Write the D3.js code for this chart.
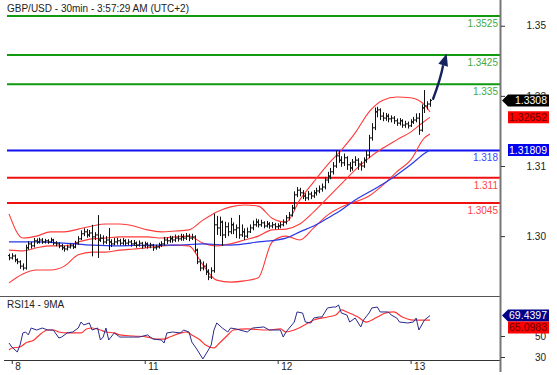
<!DOCTYPE html>
<html>
<head>
<meta charset="utf-8">
<script src="https://cdn.jsdelivr.net/npm/d3@7"></script>
<style>
body{margin:0;background:#fff;}
svg{display:block;font-family:"Liberation Sans",Arial,sans-serif;}
</style>
</head>
<body>
<svg id="chart" width="557" height="375"></svg>
<script>
//Data - GBP/USD 30min bars
const title = 'GBP/USD - 30min - 3:57:29 AM (UTC+2)';
const firstOpen = 1.2910;
const closes = [
  1.2904,1.2909,1.2899,1.2894,1.2883,1.2878,1.2930,1.2940,1.2935,1.2948,
  1.2945,1.2950,1.2945,1.2948,1.2945,1.2950,1.2942,1.2940,1.2935,1.2930,
  1.2927,1.2932,1.2935,1.2932,1.2942,1.2953,1.2966,1.2971,1.2963,1.2968,
  1.2958,1.2963,1.2950,1.2955,1.2945,1.2950,1.2945,1.2940,1.2945,1.2948,
  1.2942,1.2948,1.2942,1.2945,1.2940,1.2942,1.2937,1.2942,1.2935,1.2940,
  1.2935,1.2937,1.2930,1.2932,1.2937,1.2940,1.2950,1.2948,1.2953,1.2950,
  1.2955,1.2953,1.2958,1.2955,1.2960,1.2955,1.2958,1.2924,1.2894,1.2878,
  1.2883,1.2868,1.2855,1.2871,1.2989,1.2981,1.2996,1.2963,1.2984,1.2971,
  1.2989,1.2976,1.2981,1.2963,1.2971,1.2960,1.2971,1.2981,1.2989,1.2996,
  1.2989,1.2994,1.2986,1.2991,1.2986,1.2989,1.2984,1.2986,1.2989,1.2996,
  1.3007,1.3014,1.3032,1.3066,1.3078,1.3071,1.3063,1.3058,1.3068,1.3063,
  1.3071,1.3076,1.3081,1.3086,1.3104,1.3114,1.3125,1.3140,1.3166,1.3155,
  1.3148,1.3161,1.3143,1.3135,1.3150,1.3155,1.3145,1.3140,1.3155,1.3168,
  1.3212,1.3238,1.3279,1.3284,1.3268,1.3263,1.3268,1.3261,1.3263,1.3256,
  1.3250,1.3256,1.3245,1.3248,1.3243,1.3253,1.3258,1.3263,1.3232,1.3289,
  1.3294,1.3299,1.3308
];
const highs = [
  1.2915,1.2916,1.2913,1.2903,1.2898,1.2890,1.2938,1.2947,1.2945,1.2955,
  1.2954,1.2956,1.2955,1.2953,1.2952,1.2956,1.2953,1.2947,1.2944,1.2940,
  1.2935,1.2938,1.2941,1.2940,1.2948,1.2960,1.2975,1.2980,1.2978,1.2976,
  1.2989,1.2970,1.3014,1.2965,1.2962,1.2960,1.2981,1.2952,1.2955,1.2956,
  1.2953,1.2955,1.2952,1.2952,1.2950,1.2950,1.2946,1.2949,1.2945,1.2946,
  1.2944,1.2943,1.2940,1.2938,1.2943,1.2947,1.2958,1.2957,1.2961,1.2960,
  1.2964,1.2962,1.2966,1.2965,1.2968,1.2966,1.2966,1.2962,1.2928,1.2900,
  1.2895,1.2890,1.2875,1.2880,1.3018,1.3012,1.3010,1.3000,1.2997,1.2995,
  1.3007,1.2995,1.2990,1.3014,1.2990,1.2980,1.2982,1.2990,1.3000,1.3005,
  1.3003,1.3002,1.2998,1.2999,1.2996,1.2996,1.2994,1.2993,1.2996,1.3003,
  1.3014,1.3022,1.3040,1.3075,1.3086,1.3084,1.3078,1.3070,1.3076,1.3074,
  1.3078,1.3084,1.3090,1.3095,1.3112,1.3125,1.3135,1.3150,1.3180,1.3180,
  1.3165,1.3172,1.3165,1.3150,1.3158,1.3165,1.3160,1.3152,1.3162,1.3180,
  1.3220,1.3250,1.3290,1.3292,1.3288,1.3278,1.3276,1.3274,1.3270,1.3268,
  1.3262,1.3263,1.3260,1.3256,1.3254,1.3260,1.3266,1.3275,1.3276,1.3298,
  1.3335,1.3306,1.3312
];
const lows = [
  1.2898,1.2900,1.2893,1.2888,1.2876,1.2872,1.2874,1.2925,1.2928,1.2931,
  1.2940,1.2941,1.2940,1.2941,1.2940,1.2942,1.2937,1.2934,1.2929,1.2924,
  1.2920,1.2923,1.2928,1.2927,1.2929,1.2938,1.2950,1.2960,1.2956,1.2958,
  1.2908,1.2950,1.2904,1.2945,1.2938,1.2940,1.2924,1.2932,1.2936,1.2938,
  1.2936,1.2937,1.2935,1.2937,1.2933,1.2935,1.2930,1.2933,1.2928,1.2930,
  1.2928,1.2929,1.2922,1.2925,1.2928,1.2932,1.2936,1.2940,1.2943,1.2943,
  1.2945,1.2946,1.2948,1.2948,1.2950,1.2947,1.2950,1.2918,1.2888,1.2870,
  1.2872,1.2860,1.2847,1.2850,1.2866,1.2963,1.2960,1.2935,1.2955,1.2960,
  1.2965,1.2965,1.2955,1.2953,1.2958,1.2950,1.2955,1.2968,1.2975,1.2984,
  1.2982,1.2984,1.2980,1.2982,1.2979,1.2980,1.2977,1.2978,1.2980,1.2985,
  1.2990,1.3000,1.3010,1.3028,1.3060,1.3062,1.3055,1.3050,1.3052,1.3055,
  1.3058,1.3064,1.3070,1.3074,1.3080,1.3096,1.3106,1.3118,1.3135,1.3148,
  1.3138,1.3140,1.3130,1.3125,1.3128,1.3140,1.3130,1.3128,1.3135,1.3148,
  1.3160,1.3205,1.3232,1.3265,1.3258,1.3255,1.3256,1.3252,1.3252,1.3248,
  1.3243,1.3244,1.3238,1.3238,1.3236,1.3240,1.3248,1.3252,1.3220,1.3228,
  1.3276,1.3285,1.3292
];

//Bollinger bands (sampled every 5 bars)
const bandIdx = [0,5,10,15,20,25,30,35,40,45,50,55,60,65,70,75,80,85,90,95,100,105,110,115,120,125,130,135,140,145,150,152];
const bandUpper = [1.3017,1.2955,1.2960,1.2971,1.2971,1.2978,1.2986,1.2991,1.2991,1.2986,1.2976,1.2971,1.2973,1.2976,1.3001,1.3022,
  1.3035,1.3040,1.3037,1.3006,1.2996,1.3053,1.3099,1.3143,1.3181,1.3225,1.3279,1.3309,1.3317,1.3315,1.3297,1.3279];
const bandMid = [1.2924,1.2922,1.2930,1.2935,1.2935,1.2945,1.2953,1.2955,1.2958,1.2958,1.2958,1.2955,1.2958,1.2960,1.2942,1.2935,
  1.2940,1.2950,1.2960,1.2976,1.2978,1.2991,1.3022,1.3058,1.3094,1.3130,1.3161,1.3186,1.3207,1.3227,1.3255,1.3265];
const bandLower = [1.2840,1.2863,1.2873,1.2873,1.2883,1.2912,1.2919,1.2919,1.2924,1.2927,1.2930,1.2935,1.2937,1.2935,1.2886,1.2847,
  1.2842,1.2845,1.2853,1.2945,1.2960,1.2950,1.2981,1.3014,1.3035,1.3048,1.3063,1.3091,1.3125,1.3155,1.3212,1.3222];

//Long moving average (blue)
const maIdx = [0,10,20,30,40,50,60,70,80,90,100,105,110,115,120,125,130,135,140,145,150,152];
const maVals = [1.2945,1.2945,1.2942,1.2937,1.2935,1.2937,1.2937,1.2940,1.2937,1.2945,1.2955,1.2971,1.2986,1.3006,1.3027,1.3053,
  1.3073,1.3094,1.3117,1.3143,1.3172,1.3181];

//Levels
const levels = [1.3525, 1.3425, 1.335, 1.318, 1.311, 1.3045];
const levelLabels = ['1.3525','1.3425','1.335','1.318','1.311','1.3045'];
const levelColors = ['#109a10','#109a10','#109a10','#1010f0','#f01010','#f01010'];
const levelTextColors = ['#44aa44','#44aa44','#44aa44','#4444ff','#ff4444','#ff4444'];

//Axis ticks
const priceTicks = [1.35, 1.332, 1.314, 1.296];
const rsiTicks = [30, 50];
const dayTicks = [1, 49, 97, 145];
const dayLabels = ['8', '11', '12', '13'];

//RSI14 and its 9MA
const rsiIdx = [0,1,3,4,5,6,7,8,10,12,14,16,18,19,21,23,25,26,27,29,30,32,33,34,35,36,38,39,40,43,45,47,50,52,55,56,57,59,62,63,65,66,68,70,72,73,74,75,77,79,80,82,86,88,92,94,97,98,99,100,
  103,104,106,107,109,110,112,113,115,117,118,119,120,122,123,125,127,128,130,131,133,134,137,138,140,141,144,146,147,148,150,152];
const rsiVals = [43.3,39.5,34.8,41.4,52.9,53.8,51.0,57.6,55.7,57.6,55.7,55.7,48.1,49.0,52.9,53.8,57.6,63.3,60.5,62.4,55.7,57.6,46.2,49.0,57.6,46.2,52.9,51.0,49.0,49.0,49.0,49.0,51.0,47.1,46.2,43.3,52.9,53.8,52.9,55.7,53.8,44.3,36.7,28.1,36.7,41.4,55.7,62.4,57.6,53.8,57.6,56.7,53.8,57.6,58.6,55.7,55.7,55.7,49.0,53.8,
  63.3,72.9,71.9,63.3,62.4,67.1,68.1,68.1,76.7,77.6,77.6,79.5,71.9,70.0,63.3,67.1,58.6,65.2,71.9,76.7,77.6,72.9,72.9,70.0,67.1,63.3,62.4,63.3,67.1,55.7,65.2,69.4397];
const rsiMaIdx = [0,1,4,6,9,11,14,16,18,21,23,26,28,30,33,35,38,40,45,50,53,56,58,62,64,66,69,71,74,76,79,81,86,93,98,100,103,108,110,115,118,120,122,126,129,133,136,139,142,146,152];
const rsiMaVals = [36.7,38.6,39.5,43.3,46.2,51.0,55.7,55.7,53.8,52.9,52.9,52.9,56.7,57.6,55.7,53.8,52.9,51.0,50.0,49.0,47.1,47.1,49.0,52.9,53.8,51.0,46.2,41.4,38.6,43.3,51.0,55.7,56.7,55.7,56.7,53.8,55.7,62.4,65.2,68.1,70.0,74.8,72.9,68.1,63.3,68.1,71.9,72.9,68.1,65.2,65.0983];

//Current values shown on the right
const lastPrice = 1.3308, midValue = 1.32652, maValue = 1.31809;
const lastRsi = 69.4397, lastRsiMa = 65.0983;

//Forecast arrow: from [bar, price] to [bar, price]
const arrowFrom = [153, 1.3310], arrowTo = [158, 1.3428];

//Canvas
const svg = d3.select('#chart');
const axisLeftX = 500;
const x = d3.scaleLinear().domain([0, 152]).range([9, 430]);
const y = d3.scaleLinear().domain([1.3525, 1.3045]).range([16, 203]);
const yR = d3.scaleLinear().domain([50, 30]).range([336, 357]);

svg.append('clipPath').attr('id', 'clipMain').append('rect')
   .attr('x', 0).attr('y', 0).attr('width', axisLeftX).attr('height', 296);
svg.append('clipPath').attr('id', 'clipRsi').append('rect')
   .attr('x', 0).attr('y', 297).attr('width', axisLeftX).attr('height', 63);

const main = svg.append('g').attr('clip-path', 'url(#clipMain)');

//levels
main.selectAll('.level').data(levels).join('line').attr('class', 'level')
    .attr('x1', 7).attr('x2', axisLeftX)
    .attr('y1', d => y(d)).attr('y2', d => y(d))
    .attr('stroke', (d, i) => levelColors[i]).attr('stroke-width', 2);
main.selectAll('.level-label').data(levels).join('text').attr('class', 'level-label')
    .attr('x', axisLeftX - 2).attr('y', d => y(d) + 11)
    .attr('text-anchor', 'end').style('font-size', '10px')
    .attr('fill', (d, i) => levelTextColors[i]).text((d, i) => levelLabels[i]);

//bands + MA
const lineOf = (idx, vals, ys, curve) => d3.line()
    .x((d, i) => x(idx[i])).y(d => ys(d)).curve(curve)(vals);
[bandUpper, bandMid, bandLower].forEach(vals => {
    main.append('path').attr('d', lineOf(bandIdx, vals, y, d3.curveMonotoneX))
        .attr('fill', 'none').attr('stroke', '#ff3a3a').attr('stroke-width', 1.1);
});
main.append('path').attr('d', lineOf(maIdx, maVals, y, d3.curveMonotoneX))
    .attr('fill', 'none').attr('stroke', '#2838e8').attr('stroke-width', 1.2);

//OHLC bars
const opens = closes.map((c, i) => i ? closes[i - 1] : firstOpen);
const bars = main.append('g').attr('stroke', '#111').attr('stroke-width', 1);
closes.forEach((c, i) => {
    const cx = Math.round(x(i)) + 0.5;
    bars.append('line').attr('x1', cx).attr('x2', cx).attr('y1', y(highs[i])).attr('y2', y(lows[i]));
    bars.append('line').attr('x1', cx - 1.5).attr('x2', cx).attr('y1', y(opens[i])).attr('y2', y(opens[i]));
    bars.append('line').attr('x1', cx).attr('x2', cx + 1.5).attr('y1', y(c)).attr('y2', y(c));
});

//arrow
const [ax0, ay0] = [x(arrowFrom[0]), y(arrowFrom[1])];
const [ax1, ay1] = [x(arrowTo[0]), y(arrowTo[1])];
const len = Math.hypot(ax1 - ax0, ay1 - ay0);
const ux = (ax1 - ax0) / len, uy = (ay1 - ay0) / len;
const bx = ax1 - ux * 12, by = ay1 - uy * 12;
const p = d3.path();
p.moveTo(ax0, ay0);
p.quadraticCurveTo(ax0 + (bx - ax0) * 0.6 - uy * 1.5, ay0 + (by - ay0) * 0.6 + ux * 1.5, bx, by);
main.append('path').attr('d', p.toString()).attr('fill', 'none')
    .attr('stroke', '#14225e').attr('stroke-width', 2.4);
main.append('path')
    .attr('d', `M${ax1},${ay1}L${bx - uy * 5},${by + ux * 5}L${bx + uy * 5},${by - ux * 5}Z`)
    .attr('fill', '#14225e');

//RSI panel
const rsiG = svg.append('g').attr('clip-path', 'url(#clipRsi)');
rsiG.append('path').attr('d', lineOf(rsiMaIdx, rsiMaVals, yR, d3.curveMonotoneX))
    .attr('fill', 'none').attr('stroke', '#ff3333').attr('stroke-width', 1.2);
rsiG.append('path').attr('d', lineOf(rsiIdx, rsiVals, yR, d3.curveLinear))
    .attr('fill', 'none').attr('stroke', '#2a2a8c').attr('stroke-width', 1);

//frame
svg.append('line').attr('x1', 0).attr('x2', axisLeftX).attr('y1', 296.5).attr('y2', 296.5)
   .attr('stroke', '#555').attr('stroke-width', 1);
svg.append('line').attr('x1', 4).attr('x2', axisLeftX).attr('y1', 360.5).attr('y2', 360.5)
   .attr('stroke', '#333').attr('stroke-width', 1);
svg.append('line').attr('x1', axisLeftX + 0.5).attr('x2', axisLeftX + 0.5).attr('y1', 0).attr('y2', 372)
   .attr('stroke', '#777').attr('stroke-width', 2);

//axes
const priceAxis = d3.axisRight(y).tickValues(priceTicks).tickFormat(d3.format('.2f')).tickSize(4).tickSizeOuter(0);
const pa = svg.append('g').attr('transform', `translate(${axisLeftX + 1},0)`).call(priceAxis);
const rsiAxis = d3.axisRight(yR).tickValues(rsiTicks).tickSize(4).tickSizeOuter(0);
const ra = svg.append('g').attr('transform', `translate(${axisLeftX + 1},0)`).call(rsiAxis);
const dayAxis = d3.axisBottom(x).tickValues(dayTicks).tickFormat((d, i) => dayLabels[i]).tickSize(4).tickSizeOuter(0);
const da = svg.append('g').attr('transform', 'translate(0,360)').call(dayAxis);
[pa, ra, da].forEach(g => {
    g.select('.domain').remove();
    g.selectAll('line').attr('stroke', '#333');
    g.selectAll('text').attr('fill', '#222').style('font-size', '10px')
        .style('font-family', '"Liberation Sans",Arial,sans-serif');
});
[pa, ra].forEach(g => g.selectAll('text').attr('text-anchor', 'end').attr('x', 45));
da.selectAll('text').attr('text-anchor', 'start').attr('dx', '3').attr('y', 3).attr('dy', '0.71em');

//value markers
function marker(cy, label, bg, fg, arrow) {
    const g = svg.append('g');
    const pts = arrow
        ? [[axisLeftX + 2, cy], [axisLeftX + 8, cy - 6], [549, cy - 6], [549, cy + 6], [axisLeftX + 8, cy + 6]]
        : [[axisLeftX + 8, cy - 6], [549, cy - 6], [549, cy + 6], [axisLeftX + 8, cy + 6]];
    g.append('polygon').attr('points', pts.map(d => d.join(',')).join(' ')).attr('fill', bg);
    g.append('text').attr('x', 547).attr('y', cy + 3.6).attr('text-anchor', 'end')
        .style('font-size', '10.5px').attr('fill', fg).text(label);
}
marker(y(lastPrice), '1.3308', '#000', '#fff', true);
marker(y(midValue), '1.32652', '#ff0000', '#6a0000', false);
marker(y(maValue), '1.31809', '#0000ee', '#fff', false);
const rsiY = yR(lastRsi);
marker(rsiY, '69.4397', '#000088', '#fff', true);
marker(Math.max(yR(lastRsiMa), rsiY + 12), '65.0983', '#ff0000', '#6a0000', false);

//titles
svg.append('text').attr('x', 7).attr('y', 12).style('font-size', '10px').attr('fill', '#222').text(title);
svg.append('text').attr('x', 7).attr('y', 308).style('font-size', '10px').attr('fill', '#222').text('RSI14 - 9MA');
</script>
</body>
</html>
